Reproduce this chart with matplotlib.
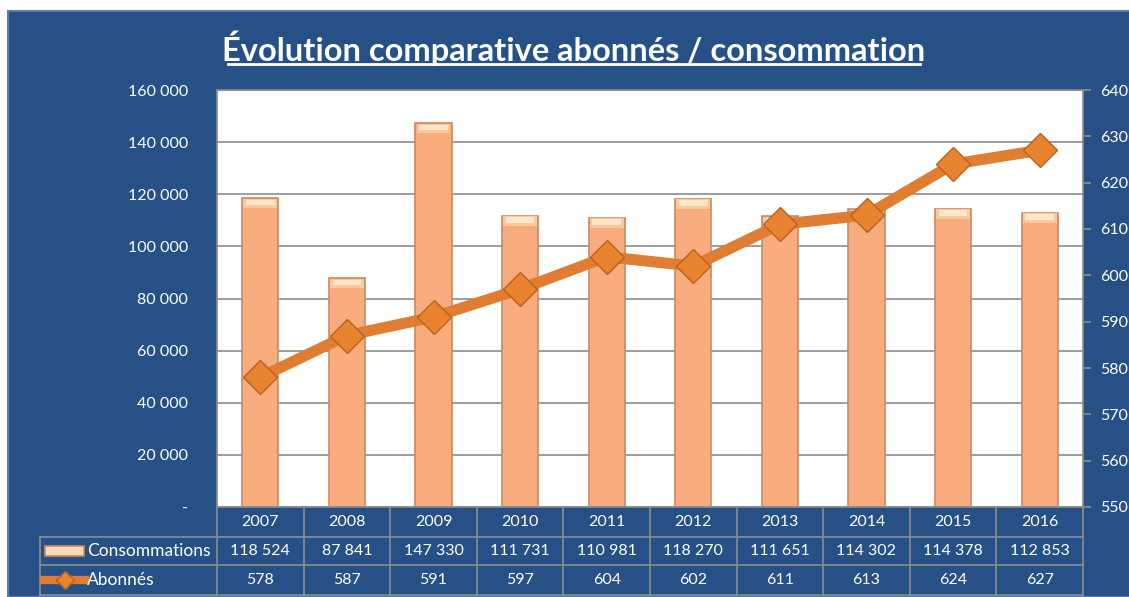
import matplotlib
matplotlib.use("Agg")
import matplotlib.pyplot as plt
import matplotlib.transforms as mtransforms
from matplotlib.patches import Rectangle
from matplotlib.lines import Line2D
import numpy as np

years = ["2007", "2008", "2009", "2010", "2011", "2012", "2013", "2014", "2015", "2016"]
consommations = [118524, 87841, 147330, 111731, 110981, 118270, 111651, 114302, 114378, 112853]
abonnes = [578, 587, 591, 597, 604, 602, 611, 613, 624, 627]

BLUE = "#275186"
GRID = "#8c8c8c"
BAR = "#F8AB7C"
BAR_EDGE = "#C98A63"
LINE = "#DF7E32"

plt.rcParams["font.family"] = ["Lato", "DejaVu Sans"]

W, H = 1129, 597
fig = plt.figure(figsize=(W / 100, H / 100), dpi=100)
fig.patch.set_facecolor("white")

# blue chart frame
fig.patches.append(Rectangle((8 / W, 0), 1.0, (H - 11) / H, transform=fig.transFigure,
                             facecolor=BLUE, edgecolor="#5a7fb0", linewidth=1.5, zorder=-10))

ax = fig.add_axes([217 / W, (H - 507) / H, (1083 - 217) / W, (507 - 90) / H])
ax.set_facecolor("white")
x = np.arange(len(years))

ax.bar(x, consommations, width=0.42, color=BAR, edgecolor=BAR_EDGE, linewidth=1.2, zorder=2)
# soft highlight at the top of each bar
top = np.array(consommations)
ax.bar(x, [3600] * len(x), bottom=top - 3800, width=0.39, color="#FAC89E", linewidth=0, zorder=3)
ax.bar(x, [2000] * len(x), bottom=top - 2600, width=0.33, color="#FDE6C9", linewidth=0, zorder=3)

ax.set_xlim(-0.5, len(years) - 0.5)
ax.set_ylim(0, 160000)
ax.set_yticks(range(0, 160001, 20000))
ax.set_yticklabels(["-"] + [f"{v:,}".replace(",", " ") for v in range(20000, 160001, 20000)])
ax.yaxis.grid(True, color=GRID, linewidth=1.2, zorder=1)
ax.set_axisbelow(True)
ax.set_xticks([])
ax.tick_params(axis="y", length=0, pad=21, labelsize=11.5, colors="white")
for s in ax.spines.values():
    s.set_color(GRID)
    s.set_linewidth(1.2)

ax2 = ax.twinx()
ax2.plot(x, abonnes, color=LINE, linewidth=8, marker="D", markersize=17,
         markerfacecolor="#E8842F", markeredgecolor="#B8621E", markeredgewidth=1, zorder=5)
ax2.set_ylim(550, 640)
ax2.set_yticks(range(550, 641, 10))
ax2.tick_params(axis="y", length=6, width=1.2, pad=6, labelsize=11.5, labelcolor="white", color=GRID)
for s in ax2.spines.values():
    s.set_visible(False)

# data table under the plot
trans = mtransforms.blended_transform_factory(ax.transData, fig.transFigure)
row_y = [(H - 507) / H, (H - 537) / H, (H - 565) / H, (H - 595) / H]
left_x = 40
cell_left = [i - 0.5 for i in range(len(years))] + [len(years) - 0.5]

tc = "white"
fs = 11.5
for yv in row_y[1:]:
    fig.add_artist(Line2D([left_x / W, 1083 / W], [yv, yv], color=GRID, lw=1.2, transform=fig.transFigure))
fig.add_artist(Line2D([left_x / W] * 2, [row_y[3], row_y[1]], color=GRID, lw=1.2, transform=fig.transFigure))
for cx in cell_left:
    fig.add_artist(Line2D([cx, cx], [row_y[3], row_y[0]], color=GRID, lw=1.2, transform=trans))

for i, yr in enumerate(years):
    fig.text(i, (row_y[0] + row_y[1]) / 2, yr, transform=trans, ha="center", va="center", color=tc, fontsize=fs)
    fig.text(i, (row_y[1] + row_y[2]) / 2, f"{consommations[i]:,}".replace(",", " "), transform=trans,
             ha="center", va="center", color=tc, fontsize=fs)
    fig.text(i, (row_y[2] + row_y[3]) / 2, str(abonnes[i]), transform=trans,
             ha="center", va="center", color=tc, fontsize=fs)

# row headers with legend keys
y1 = (row_y[1] + row_y[2]) / 2
y2 = (row_y[2] + row_y[3]) / 2
fig.patches.append(Rectangle((45 / W, y1 - 5 / H), 39 / W, 10 / H, transform=fig.transFigure,
                             facecolor="#FBD9B5", edgecolor=BAR_EDGE, linewidth=1.2, zorder=3))
fig.text(87 / W, y1, "Consommations", ha="left", va="center", color=tc, fontsize=12.5)
fig.add_artist(Line2D([44 / W, 85 / W], [y2, y2], color=LINE, lw=6, transform=fig.transFigure))
fig.add_artist(Line2D([65 / W], [y2], color=LINE, marker="D", markersize=9,
                      markerfacecolor="#E8842F", markeredgecolor="#B8621E", transform=fig.transFigure))
fig.text(87 / W, y2, "Abonnés", ha="left", va="center", color=tc, fontsize=12.5)

fig.text(574 / W, (H - 48) / H, "Évolution comparative abonnés / consommation", ha="center", va="center",
         color="white", fontsize=23.5, fontweight="bold")
fig.add_artist(Line2D([228 / W, 920 / W], [(H - 64) / H] * 2, color="white", lw=2, transform=fig.transFigure))

fig.savefig("out.png", dpi=100, facecolor=fig.get_facecolor())
